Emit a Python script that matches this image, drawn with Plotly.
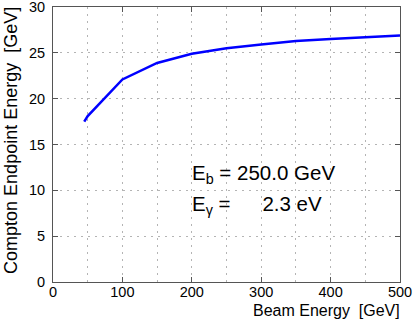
import plotly.graph_objects as go

beam_energy = [45, 50, 100, 150, 200, 250, 300, 350, 400, 450, 500]
endpoint_energy = [17.5, 18.1, 22.1, 23.9, 24.9, 25.5, 25.9, 26.3, 26.5, 26.7, 26.9]
x_ticks = [0, 100, 200, 300, 400, 500]
y_ticks = [0, 5, 10, 15, 20, 25, 30]

font = "Liberation Sans, Arial, sans-serif"
grid_color = "#b4b4b4"
grid_dash = "1.5px,5.5px"

fig = go.Figure()
fig.add_trace(go.Scatter(x=beam_energy, y=endpoint_energy, mode="lines",
                         line=dict(color="#0000ff", width=2.5)))

axis_common = dict(showline=True, linecolor="#555555", linewidth=1, mirror="allticks",
                   ticks="inside", ticklen=5, tickcolor="#555555",
                   showgrid=True, gridcolor=grid_color, griddash=grid_dash, gridwidth=1,
                   zeroline=False, automargin=False, ticklabeloverflow="allow",
                   tickfont=dict(family=font, size=14.5, color="black"))

fig.update_xaxes(range=[0, 500], tickvals=x_ticks, ticklabelstandoff=-3,
                 minor=dict(dtick=50, showgrid=True, gridcolor=grid_color, griddash=grid_dash, ticks=""),
                 **axis_common)
fig.update_yaxes(range=[0, 30], tickvals=y_ticks, ticklabelstandoff=4, **axis_common)

fig.add_annotation(x=1.006, y=-0.104, xref="paper", yref="paper", xanchor="right", yanchor="middle",
                   text="Beam Energy  [GeV]", showarrow=False,
                   font=dict(family=font, size=16, color="black"))
fig.add_annotation(x=-0.121, y=0.513, xref="paper", yref="paper", xanchor="center", yanchor="middle",
                   text="Compton Endpoint Energy  [GeV]", textangle=-90, showarrow=False,
                   font=dict(family=font, size=18, color="black"))
fig.add_annotation(x=197.4, y=11.8, xref="x", yref="y", xanchor="left", yanchor="middle",
                   text="E<sub>b</sub> = 250.0 GeV", showarrow=False,
                   font=dict(family=font, size=20.5, color="black"))
fig.add_annotation(x=197.4, y=8.45, xref="x", yref="y", xanchor="left", yanchor="middle",
                   text="E<sub>γ</sub> =&nbsp;&nbsp;&nbsp;&nbsp;&nbsp;&#8198;2.3 eV", showarrow=False,
                   font=dict(family=font, size=20.5, color="black"))

fig.update_layout(width=415, height=324, margin=dict(l=53, r=15, t=7, b=42),
                  plot_bgcolor="white", paper_bgcolor="white", showlegend=False)

# remove the default page margin so the figure sits at the window's top-left corner
fig.write_html("out.html", config={"displayModeBar": False},
               post_script="document.body.style.margin='0';document.body.style.overflow='hidden';")
